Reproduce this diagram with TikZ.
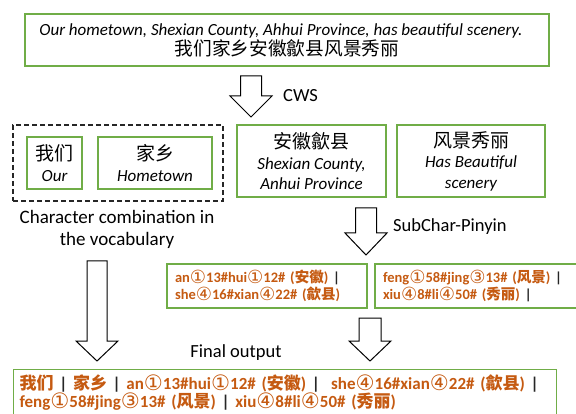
\documentclass[tikz,border=0pt]{standalone}
\usepackage{fontspec}
\usepackage{graphicx}
\setmainfont{Carlito}
\newfontfamily\cjk{Noto Sans CJK SC}
\newfontfamily\dv{DejaVu Sans}
\definecolor{gborder}{HTML}{70AD47}
\definecolor{orng}{HTML}{C55A11}
\newcommand\zh[1]{{\cjk #1}}
\newcommand\ci[1]{\raisebox{-0.06em}{\scalebox{1.25}{\dv\mdseries #1}}}
\newcommand\vsep{{\color{black!85}|}}
\newcommand\blockarrow[5]{%
  \draw[barrow] (#1-#5,#2) -- (#1+#5,#2) -- (#1+#5,#3) -- (#1+21,#3) -- (#1,#4) -- (#1-21,#3) -- (#1-#5,#3) -- cycle;}
\tikzset{
  gbox/.style={draw=gborder, line width=1.2pt, inner sep=0pt, align=center},
  barrow/.style={draw=black, line width=1pt, fill=white, line join=miter},
  lbl/.style={inner sep=0pt, font=\fontsize{18.5}{22}\selectfont},
  pin/.style={gbox, align=left, inner xsep=8pt, text=orng,
    font=\bfseries\fontsize{14.5}{17}\selectfont},
}
\begin{document}
\begin{tikzpicture}[x=1pt,y=-1pt]
\useasboundingbox (0,0) rectangle (576,414);
% top sentence
\node[gbox, minimum width=524, minimum height=52,
  font=\fontsize{17}{20}\selectfont] (top) at (287,40)
  {\itshape Our hometown, Shexian County, Ahhui Province, has beautiful scenery.\hspace*{12pt}\\
   \zh{\fontsize{18.7}{20}\selectfont 我们家乡安徽歙县风景秀丽}};
% CWS arrow
\blockarrow{251}{76}{96}{117}{10.5}
\node[lbl, anchor=west] (cws) at (283,96) {CWS};
% dashed vocabulary group
\node[draw=black!85, line width=1.3pt, dash pattern=on 5pt off 3pt,
  minimum width=210, minimum height=76, inner sep=0pt] (vocab) at (118,163) {};
\node[gbox, minimum width=55, minimum height=52,
  font=\fontsize{17}{21}\selectfont] (women) at (54.5,163)
  {\zh{\fontsize{19}{21}\selectfont 我们}\\\itshape Our};
\node[gbox, minimum width=114, minimum height=52,
  font=\fontsize{17}{21}\selectfont] (jiaxiang) at (155,163)
  {\zh{\fontsize{19}{21}\selectfont 家乡}\\\itshape Hometown};
\node[lbl, align=center, font=\fontsize{19}{22}\selectfont] (cc) at (117,229)
  {Character combination in\\the vocabulary};
% segmented words
\node[gbox, minimum width=149, minimum height=72,
  font=\fontsize{17}{20.5}\selectfont] (anhui) at (311.5,161)
  {\zh{\fontsize{19}{20}\selectfont 安徽歙县}\\\itshape Shexian County,\\\itshape Anhui Province};
\node[gbox, minimum width=148, minimum height=72,
  font=\fontsize{17}{20.5}\selectfont] (fengjing) at (471,161)
  {\zh{\fontsize{19}{20}\selectfont 风景秀丽}\\\itshape Has Beautiful\\\itshape scenery};
% SubChar-Pinyin arrow
\blockarrow{366}{208}{233}{255}{10.5}
\node[lbl, anchor=west] (scp) at (393,227) {SubChar-Pinyin};
% pinyin boxes
\node[pin, minimum width=200, minimum height=44, text width=184] (p1) at (267,286)
  {an\ci{①}13\#hui\ci{①}12\# (\zh{安徽}) \vsep\\
   she\ci{④}16\#xian\ci{④}22\# (\zh{歙县})};
\node[pin, minimum width=203, minimum height=44, text width=187] (p2) at (476.5,286)
  {feng\ci{①}58\#jing\ci{③}13\# (\zh{风景}) \vsep\\
   xiu\ci{④}8\#li\ci{④}50\# (\zh{秀丽}) \vsep};
% arrows to final
\blockarrow{97}{261}{341}{361}{10}
\blockarrow{370}{318}{341}{361}{11}
\node[lbl] (fo) at (236,353) {Final output};
% final output box
\node[gbox, align=left, text=orng, minimum width=543, minimum height=46,
  text width=531, inner xsep=6pt, font=\bfseries\fontsize{17}{18.5}\selectfont,
  anchor=north west] (final) at (13,369)
  {\zh{我们} \vsep{} \zh{家乡} \vsep{} an\ci{①}13\#hui\ci{①}12\# (\zh{安徽}) \vsep\ \ she\ci{④}16\#xian\ci{④}22\# (\zh{歙县}) \vsep\\
   feng\ci{①}58\#jing\ci{③}13\# (\zh{风景}) \vsep{} xiu\ci{④}8\#li\ci{④}50\# (\zh{秀丽})};
\end{tikzpicture}
\end{document}
